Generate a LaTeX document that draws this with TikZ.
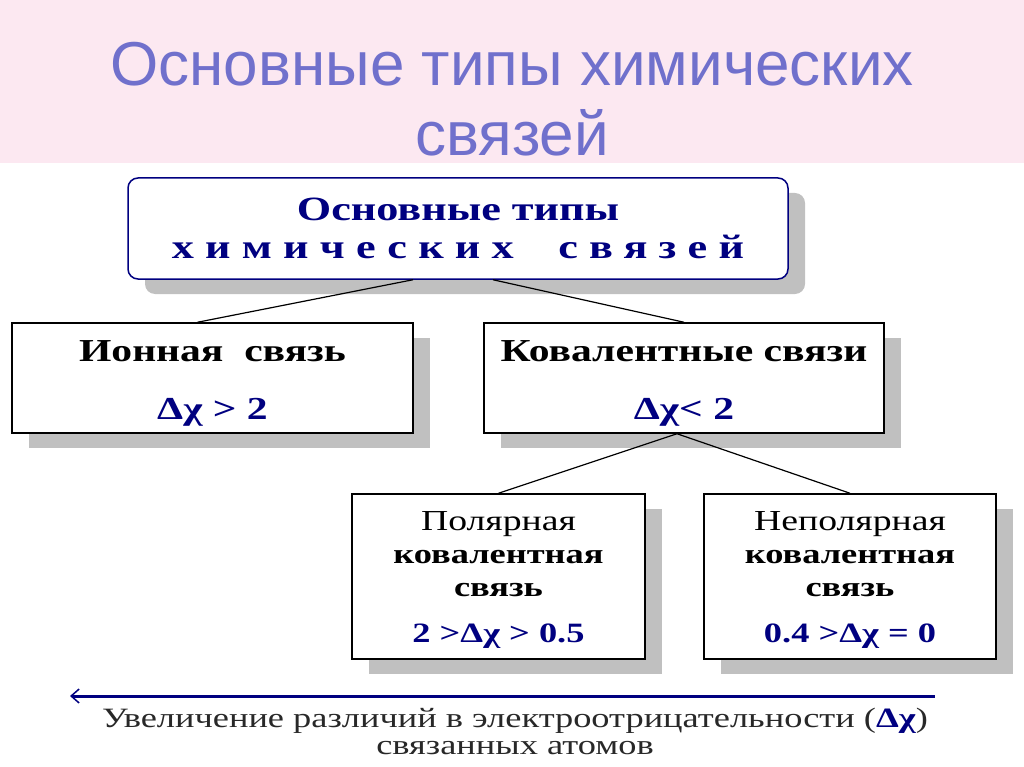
\documentclass[tikz,border=0pt]{standalone}
\usepackage{fontspec}
\setmainfont{Liberation Serif}
\newfontfamily\titlefont{Liberation Sans}
\newfontfamily\boxfont[FakeStretch=1.3]{Liberation Serif}
\definecolor{MainNavy}{RGB}{0, 0, 128}
\definecolor{TitleBlue}{RGB}{112, 112, 204}
\definecolor{BandPink}{RGB}{252, 232, 241}
\definecolor{ShadowGray}{RGB}{192, 192, 192}
\definecolor{NoteGray}{RGB}{40, 40, 40}
\usepackage{tikz}
\usetikzlibrary{arrows.meta, positioning, shadows, calc}

\begin{document}
\begin{tikzpicture}[x=1pt, y=-1pt]
        \tikzstyle{bondbox} = [rectangle, draw=black, line width=1.5pt, fill=white, align=center, font=\boxfont\bfseries\fontsize{32}{36}\selectfont, drop shadow={shadow xshift=17pt, shadow yshift=-15pt, fill=ShadowGray, opacity=1}]
        \tikzstyle{link} = [line width=1.2pt, black]
        \tikzstyle{scalearrow} = [{Straight Barb[length=8pt, width=14pt, line width=1.5pt]}-, line width=3pt, MainNavy]

        \useasboundingbox (0,0) rectangle (1024,767);
        \fill [BandPink] (0,0) rectangle (1024,163);

        % Titlu
        \node (title) [text=TitleBlue, align=center, font=\titlefont\fontsize{62}{70}\selectfont] at (512,99) {Основные типы химических\\связей};

        % Noduri
        \node (root) [bondbox, rounded corners=10pt, draw=MainNavy, text=MainNavy, minimum width=660pt, minimum height=101pt, font=\boxfont\bfseries\fontsize{34}{38}\selectfont] at (458,228.5) {Основные типы\\{\addfontfeature{LetterSpace=33}химических\ \ связей}};
        \node (ion) [bondbox, minimum width=401pt, minimum height=110pt] at (212.5,378) {\rule{0pt}{32pt}Ионная\ \ связь\\[22pt]{\color{MainNavy}Δχ > 2}};
        \node (cov) [bondbox, minimum width=400pt, minimum height=110pt] at (684,378) {\rule{0pt}{32pt}Ковалентные связи\\[22pt]{\color{MainNavy}Δχ< 2}};
        \node (polar) [bondbox, minimum width=293pt, minimum height=165pt, font=\boxfont\bfseries\fontsize{28}{33}\selectfont] at (498.5,576.5) {{\mdseries\fontsize{29}{33}\selectfont\rule{0pt}{25pt}Полярная}\\ковалентная\\связь\\[13pt]{\color{MainNavy}2 >Δχ > 0.5}};
        \node (nonpolar) [bondbox, minimum width=292pt, minimum height=165pt, font=\boxfont\bfseries\fontsize{28}{33}\selectfont] at (850,576.5) {{\mdseries\fontsize{29}{33}\selectfont\rule{0pt}{25pt}Неполярная}\\ковалентная\\связь\\[13pt]{\color{MainNavy}0.4 >Δχ = 0}};

        % Legaturi
        \draw [link] ($(root.south)+(-45,0)$) -- ($(ion.north)+(-15,0)$);
        \draw [link] ($(root.south)+(35,0)$) -- (cov.north);
        \draw [link] ($(cov.south)+(-7,0)$) -- (polar.north);
        \draw [link] ($(cov.south)+(-7,0)$) -- (nonpolar.north);

        % Sageata de jos
        \coordinate (scaleR) at (935,696);
        \coordinate (scaleL) at (70,696);
        \draw [scalearrow] (scaleL) -- (scaleR);
        \node (note) [text=NoteGray, align=center, font=\boxfont\fontsize{28}{27}\selectfont] at (515,731) {Увеличение различий в электроотрицательности ({\color{MainNavy}\bfseries Δχ})\\связанных атомов};
    \end{tikzpicture}
\end{document}
